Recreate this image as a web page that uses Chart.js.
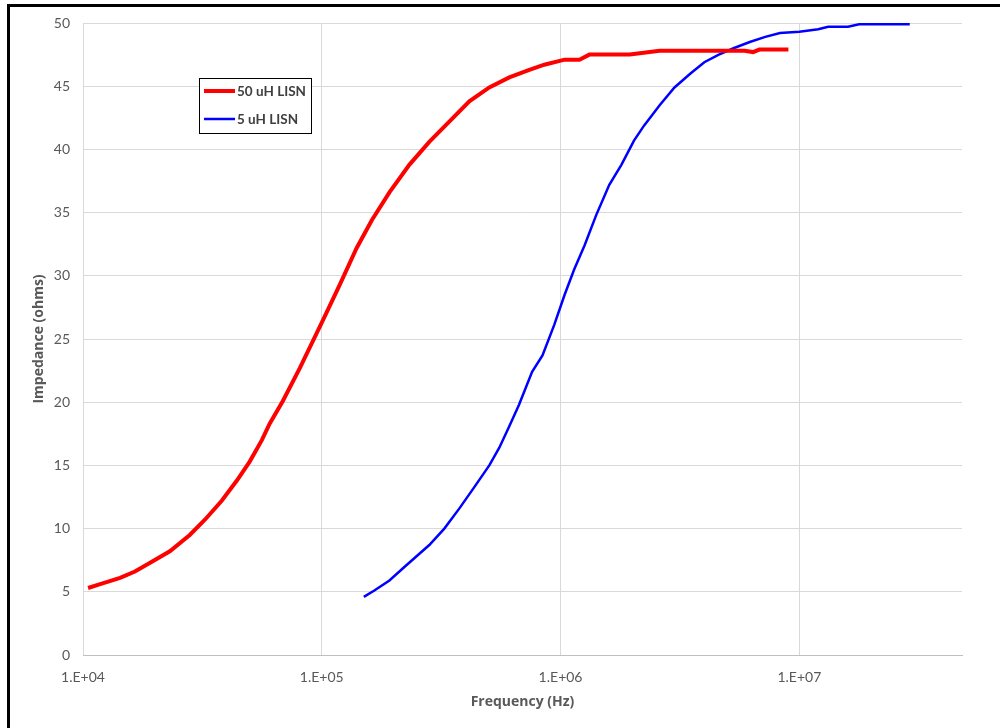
<!DOCTYPE html>
<html>
<head>
<meta charset="utf-8">
<script src="https://cdn.jsdelivr.net/npm/chart.js@4"></script>
<style>
    body { margin: 0; background: #fff; }
    #wrap { position: relative; width: 1000px; height: 728px; }
    #frame { position: absolute; left: 7px; top: 4px; right: -5px; bottom: -5px;
             border-left: 3px solid #000; border-top: 3px solid #000; pointer-events: none; }
</style>
</head>
<body>
<div id="wrap">
    <canvas id="my-chart" width="1000" height="728"></canvas>
    <div id="frame"></div>
</div>
<script>
// 50 uH LISN
const freq50 = [1.05e4, 1.18e4, 1.43e4, 1.65e4, 1.91e4, 2.31e4, 2.8e4, 3.24e4, 3.81e4, 4.41e4,
    4.99e4, 5.61e4, 6.05e4, 6.87e4, 8.09e4, 1.0e5, 1.19e5, 1.4e5, 1.62e5, 1.92e5,
    2.33e5, 2.82e5, 3.42e5, 4.15e5, 5.03e5, 6.1e5, 7.4e5, 8.55e5, 1.04e6, 1.2e6,
    1.32e6, 1.95e6, 2.6e6, 5.9e6, 6.4e6, 6.8e6, 9.0e6];
const imp50 = [5.3, 5.6, 6.1, 6.6, 7.3, 8.2, 9.5, 10.7, 12.2, 13.8,
    15.3, 17.0, 18.3, 20.1, 22.7, 26.3, 29.3, 32.2, 34.4, 36.6,
    38.8, 40.6, 42.2, 43.8, 44.9, 45.7, 46.3, 46.7, 47.1, 47.1,
    47.5, 47.5, 47.8, 47.8, 47.7, 47.9, 47.9];

// 5 uH LISN
const freq5 = [1.5e5, 1.66e5, 1.92e5, 2.23e5, 2.82e5, 3.26e5, 3.77e5, 4.36e5, 5.03e5, 5.54e5,
    6.1e5, 6.7e5, 7.6e5, 8.4e5, 9.4e5, 1.04e6, 1.14e6, 1.26e6, 1.41e6, 1.6e6,
    1.8e6, 2.03e6, 2.24e6, 2.6e6, 3.0e6, 3.5e6, 4.0e6, 4.6e6, 5.3e6, 6.2e6,
    7.2e6, 8.3e6, 1.0e7, 1.2e7, 1.32e7, 1.6e7, 1.78e7, 2.9e7];
const imp5 = [4.6, 5.1, 5.9, 7.0, 8.7, 10.0, 11.6, 13.3, 15.0, 16.4,
    18.1, 19.8, 22.4, 23.7, 26.1, 28.5, 30.5, 32.4, 34.8, 37.2,
    38.8, 40.7, 41.9, 43.5, 44.9, 46.0, 46.9, 47.5, 48.0, 48.5,
    48.9, 49.2, 49.3, 49.5, 49.7, 49.7, 49.9, 49.9];

const xTicks = [1e4, 1e5, 1e6, 1e7];
const seriesNames = ['50 uH LISN', '5 uH LISN'];

const toPoints = (xs, ys) => xs.map((x, i) => ({ x: x, y: ys[i] }));

// legende encadree, dessinee dans la zone du graphique
const boxLegend = {
    id: 'boxLegend',
    afterDraw(chart) {
        const ctx = chart.ctx;
        const x0 = 199, y0 = 78, w = 112, h = 55;
        ctx.save();
        ctx.fillStyle = '#fff';
        ctx.fillRect(x0, y0, w, h);
        ctx.strokeStyle = '#000';
        ctx.lineWidth = 1;
        ctx.strokeRect(x0 + 0.5, y0 + 0.5, w, h);
        ctx.font = 'bold 13.5px Lato';
        ctx.textBaseline = 'middle';
        chart.data.datasets.forEach((ds, i) => {
            const y = y0 + 13 + i * 28;
            ctx.strokeStyle = ds.borderColor;
            ctx.lineWidth = ds.borderWidth;
            ctx.beginPath();
            ctx.moveTo(x0 + 5, y);
            ctx.lineTo(x0 + 36, y);
            ctx.stroke();
            ctx.fillStyle = '#404040';
            ctx.fillText(ds.label, x0 + 38, y + 1);
        });
        ctx.restore();
    }
};

const ctx = document.getElementById('my-chart').getContext('2d');
new Chart(ctx, {
    type: 'line',
    data: {
        datasets: [{
            label: seriesNames[0],
            data: toPoints(freq50, imp50),
            borderColor: '#ff0000',
            borderWidth: 4,
            pointRadius: 0,
            tension: 0
        }, {
            label: seriesNames[1],
            data: toPoints(freq5, imp5),
            borderColor: '#0000ff',
            borderWidth: 2.5,
            pointRadius: 0,
            tension: 0
        }]
    },
    options: {
        responsive: false,
        animation: false,
        layout: { padding: { left: 0, top: 23, right: 38, bottom: 0 } },
        plugins: {
            legend: { display: false },
            tooltip: { enabled: false }
        },
        scales: {
            x: {
                type: 'logarithmic',
                min: 1e4,
                max: 4.8e7,
                afterBuildTicks: s => { s.ticks = xTicks.map(v => ({ value: v })); },
                afterFit: s => { s.height = 73; },
                grid: { color: '#d9d9d9', drawTicks: false },
                border: { color: '#bfbfbf', width: 1 },
                ticks: {
                    padding: 14,
                    color: '#595959',
                    font: { family: 'Lato', size: 14 },
                    maxRotation: 0,
                    callback: v => '1.E+' + String(Math.round(Math.log10(v))).padStart(2, '0')
                },
                title: {
                    display: true,
                    text: 'Frequency (Hz)',
                    color: '#595959',
                    font: { family: 'Open Sans', size: 14, weight: 'bold' },
                    padding: { top: 0, bottom: 18 }
                }
            },
            y: {
                min: 0,
                max: 50,
                afterFit: s => { s.width = 83; },
                grid: { color: '#d9d9d9', drawTicks: false },
                border: { display: false },
                ticks: {
                    stepSize: 5,
                    padding: 13,
                    color: '#595959',
                    font: { family: 'Lato', size: 14 }
                },
                title: {
                    display: true,
                    text: 'Impedance (ohms)',
                    color: '#595959',
                    font: { family: 'Open Sans', size: 14, weight: 'bold' },
                    padding: { top: 31, bottom: 0 }
                }
            }
        }
    },
    plugins: [boxLegend]
});
</script>
</body>
</html>
